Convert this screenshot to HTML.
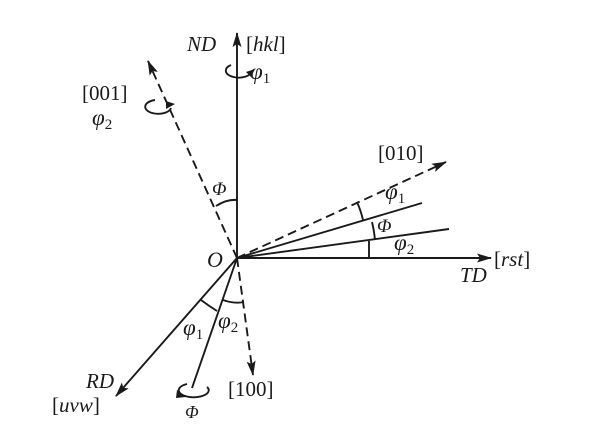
<!DOCTYPE html>
<html><head><meta charset="utf-8"><style>
html,body{margin:0;padding:0;background:#fff;width:600px;height:435px;overflow:hidden}
svg text{font-family:"Liberation Serif",serif;fill:#1a1a1a}
.i{font-style:italic}
</style></head><body>
<svg width="600" height="435" viewBox="0 0 600 435" xmlns="http://www.w3.org/2000/svg">
<defs>
<marker id="a" markerWidth="15" markerHeight="9" refX="14" refY="4.5" orient="auto" markerUnits="userSpaceOnUse">
<path d="M0,0 L15,4.5 L0,9 L3,4.5 Z" fill="#1a1a1a"/></marker>
</defs>
<g stroke="#1a1a1a" stroke-width="1.9" fill="none">
<line x1="237" y1="258" x2="237" y2="33" marker-end="url(#a)"/>
<line x1="237" y1="258" x2="491" y2="258" marker-end="url(#a)"/>
<line x1="237" y1="258" x2="116" y2="396" marker-end="url(#a)"/>
<line x1="237" y1="258" x2="192" y2="388"/>
<line x1="237" y1="258" x2="422" y2="203"/>
<line x1="237" y1="258" x2="449" y2="229"/>
<g stroke-dasharray="9,5">
<line x1="237" y1="258" x2="253" y2="375" marker-end="url(#a)"/>
<line x1="237" y1="258" x2="148" y2="61" marker-end="url(#a)"/>
<line x1="237" y1="258" x2="446" y2="162" marker-end="url(#a)"/>
</g>
<path d="M216,206 Q227,199 237,200" />
<path d="M357,202 Q361,211 363,220" />
<path d="M372,222 Q374,230 375,240" />
<path d="M369,241 L369,258" />
<path d="M201,300 Q209,306 217,311" />
<path d="M223,300 Q234,304 244,302" />
<path d="M231,65 A13,7 0 1 0 251,73" />
<path d="M155,100 A13,7 0 1 0 171,108" />
<path d="M187,384 A15,7 0 1 0 207,387" />
</g>
<g fill="#1a1a1a">
<path d="M246,72 L255,69 L251,77 Z"/>
<path d="M166,101 L175,104 L166,109 Z"/>
<path d="M177,390 L186,397 L176,398 Z"/>
</g>
<text x="187" y="51" font-size="21" class="i">ND</text>
<text x="246" y="51" font-size="21">[<tspan class="i">hkl</tspan>]</text>
<text x="250" y="79" font-size="23" class="i">φ<tspan font-size="15" font-style="normal" dy="4">1</tspan></text>
<text x="82" y="100" font-size="21">[001]</text>
<text x="92" y="125" font-size="23" class="i">φ<tspan font-size="15" font-style="normal" dy="4">2</tspan></text>
<text x="212" y="195" font-size="19" class="i">Φ</text>
<text x="207" y="267" font-size="22" class="i">O</text>
<text x="378" y="160" font-size="21">[010]</text>
<text x="385" y="199" font-size="23" class="i">φ<tspan font-size="15" font-style="normal" dy="4">1</tspan></text>
<text x="377" y="232" font-size="19" class="i">Φ</text>
<text x="394" y="250" font-size="23" class="i">φ<tspan font-size="15" font-style="normal" dy="4">2</tspan></text>
<text x="460" y="282" font-size="21" class="i">TD</text>
<text x="494" y="266" font-size="21">[<tspan class="i">rst</tspan>]</text>
<text x="183" y="335" font-size="23" class="i">φ<tspan font-size="15" font-style="normal" dy="4">1</tspan></text>
<text x="218" y="328" font-size="23" class="i">φ<tspan font-size="15" font-style="normal" dy="4">2</tspan></text>
<text x="86" y="388" font-size="21" class="i">RD</text>
<text x="52" y="412" font-size="21">[<tspan class="i">uvw</tspan>]</text>
<text x="228" y="396" font-size="21">[100]</text>
<text x="185" y="418" font-size="18" class="i">Φ</text>
</svg>
</body></html>
